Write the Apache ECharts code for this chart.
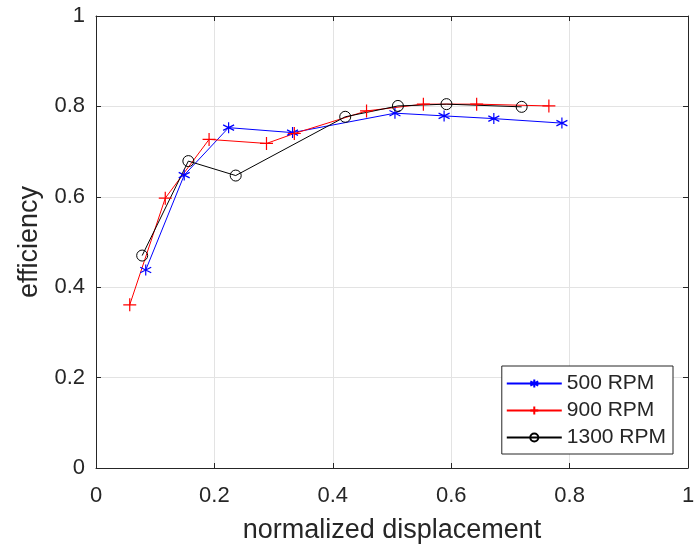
<!DOCTYPE html>
<html><head><meta charset="utf-8">
<script src="https://cdn.jsdelivr.net/npm/echarts@6/dist/echarts.min.js"></script>
<style>html,body{margin:0;padding:0;background:#fff}#c{width:697px;height:545px}</style>
</head><body><div id="c"></div>
<script>
var xTicks = [0, 0.2, 0.4, 0.6, 0.8, 1];
var yTicks = [0, 0.2, 0.4, 0.6, 0.8, 1];
var seriesNames = ['500 RPM', '900 RPM', '1300 RPM'];
var seriesColors = ['#0000ff', '#ff0000', '#000000'];
var x500 = [0.084, 0.149, 0.224, 0.332, 0.505, 0.588, 0.672, 0.787];
var y500 = [0.438, 0.648, 0.753, 0.742, 0.785, 0.779, 0.773, 0.763];
var x900 = [0.057, 0.117, 0.191, 0.288, 0.335, 0.457, 0.553, 0.643, 0.765];
var y900 = [0.361, 0.597, 0.727, 0.718, 0.740, 0.790, 0.805, 0.805, 0.801];
var x1300 = [0.078, 0.156, 0.236, 0.421, 0.510, 0.592, 0.719];
var y1300 = [0.470, 0.679, 0.647, 0.777, 0.801, 0.805, 0.799];

function pairs(xs, ys){ return xs.map(function(v,i){ return [v, ys[i]]; }); }
var txt = '#262626';
var font = 'Liberation Sans, Arial, sans-serif';
var star = 'path://M0,-1L0,1M-0.87,-0.5L0.87,0.5M-0.87,0.5L0.87,-0.5';
var plus = 'path://M0,-1L0,1M-1,0L1,0';

var chart = echarts.init(document.getElementById('c'), null, {renderer:'canvas'});
function axisCommon(show){
  return {
    type:'value', min:0, max:1, interval:0.2,
    axisLine:{show:true, onZero:false, lineStyle:{color:txt, width:1}},
    axisTick:{show:true, inside:true, length:5, lineStyle:{color:txt}},
    axisLabel:{show:show, color:txt, fontSize:22, fontFamily:font,
      formatter:function(v){ return String(Math.round(v*10)/10); }},
    splitLine:{show:show, lineStyle:{color:'#e3e3e3', width:1}}
  };
}
var xb = axisCommon(true); xb.position='bottom'; xb.axisLabel.margin=17;
xb.name='normalized displacement'; xb.nameLocation='middle'; xb.nameGap=49;
xb.nameTextStyle={color:txt, fontSize:27, fontFamily:font};
var xt = axisCommon(false); xt.position='top';
var yl = axisCommon(true); yl.position='left'; yl.axisLabel.margin=11;
yl.name='efficiency'; yl.nameLocation='middle'; yl.nameGap=52;
yl.nameTextStyle={color:txt, fontSize:27, fontFamily:font};
var yr = axisCommon(false); yr.position='right';

chart.setOption({
  animation:false,
  backgroundColor:'#fff',
  grid:{left:96, top:16, right:9, bottom:77, show:false, containLabel:false, outerBoundsMode:'none'},
  xAxis:[xb, xt],
  yAxis:[yl, yr],
  legend:{
    right:24, bottom:91, orient:'vertical', align:'left',
    backgroundColor:'#fff', borderColor:txt, borderWidth:1, borderRadius:0,
    padding:[7,7,6,4], itemGap:6, itemWidth:55, itemHeight:10,
    textStyle:{color:txt, fontSize:21, fontFamily:font},
    data:seriesNames
  },
  series:[
    {name:seriesNames[0], type:'line', data:pairs(x500,y500), symbol:star, symbolSize:11,
      lineStyle:{color:seriesColors[0], width:1}, itemStyle:{color:seriesColors[0], borderColor:seriesColors[0], borderWidth:1.2}},
    {name:seriesNames[1], type:'line', data:pairs(x900,y900), symbol:plus, symbolSize:13,
      lineStyle:{color:seriesColors[1], width:1}, itemStyle:{color:seriesColors[1], borderColor:seriesColors[1], borderWidth:1.2}},
    {name:seriesNames[2], type:'line', data:pairs(x1300,y1300), symbol:'circle', symbolSize:11,
      lineStyle:{color:seriesColors[2], width:1}, itemStyle:{color:'rgba(0,0,0,0)', borderColor:seriesColors[2], borderWidth:1}}
  ]
});
</script></body></html>
